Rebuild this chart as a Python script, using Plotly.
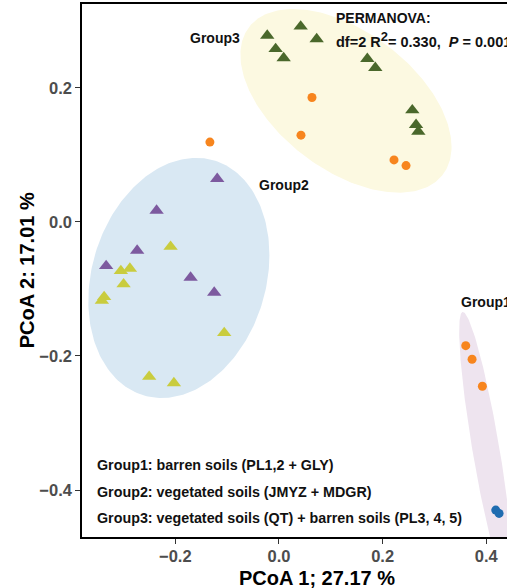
import numpy as np
import plotly.graph_objects as go

# PCoA site scores (axis 1, axis 2)
pl_x = [0.3604, 0.3726, 0.3925, 0.0637, 0.0425, -0.1332, 0.2220, 0.2452]
pl_y = [-0.1846, -0.2049, -0.2452, 0.1855, 0.1294, 0.1190, 0.0925, 0.0840]
gly_x = [0.4183, 0.4247]
gly_y = [-0.4299, -0.4348]
qt_x = [-0.0226, 0.0419, 0.0728, -0.0064, 0.0091, 0.1705, 0.1859, 0.2573, 0.2645, 0.2689]
qt_y = [0.2780, 0.2915, 0.2727, 0.2580, 0.2443, 0.2433, 0.2299, 0.1667, 0.1448, 0.1348]
jmyz_x = [-0.1191, -0.2361, -0.2736, -0.3334, -0.1705, -0.1249]
jmyz_y = [0.0642, 0.0169, -0.0428, -0.0657, -0.0831, -0.1055]
mdgr_x = [-0.2091, -0.3050, -0.2876, -0.2998, -0.3373, -0.3417, -0.1056, -0.2504, -0.2027]
mdgr_y = [-0.0369, -0.0731, -0.0697, -0.0930, -0.1119, -0.1175, -0.1657, -0.2309, -0.2403]

# Group ellipses: centre, half-width, half-height, correlation
ell_names = ["Group1", "Group2", "Group3"]
ell_cx = [0.3996, -0.1931, 0.1293]
ell_cy = [-0.3403, -0.0836, 0.1806]
ell_hx = [0.0519, 0.1747, 0.2037]
ell_hy = [0.2060, 0.1791, 0.1370]
ell_rho = [-0.861, 0.19, -0.50]
ell_fill = ["#EEE4EF", "#D9E8F3", "#FCF9E1"]

x_ticks = [-0.2, 0.0, 0.2, 0.4]
y_ticks = [-0.4, -0.2, 0.0, 0.2]

FONT = "Liberation Sans, Arial, sans-serif"

fig = go.Figure()

t = np.linspace(0, 2 * np.pi, 240)
for cx, cy, hx, hy, rho, col, nm in zip(ell_cx, ell_cy, ell_hx, ell_hy, ell_rho, ell_fill, ell_names):
    ex = cx + hx * np.cos(t)
    ey = cy + hy * (rho * np.cos(t) + np.sqrt(1 - rho ** 2) * np.sin(t))
    fig.add_trace(go.Scatter(x=ex, y=ey, mode="lines", fill="toself", fillcolor=col,
                             line=dict(width=0, color=col), hoverinfo="skip", name=nm))

fig.add_trace(go.Scatter(x=pl_x, y=pl_y, mode="markers", name="PL",
                         marker=dict(symbol="circle", size=9, color="#F7851E")))
fig.add_trace(go.Scatter(x=gly_x, y=gly_y, mode="markers", name="GLY",
                         marker=dict(symbol="circle", size=9, color="#1F6CB0")))
fig.add_trace(go.Scatter(x=qt_x, y=qt_y, mode="markers", name="QT",
                         marker=dict(symbol="triangle-up", size=12.5, color="#4A682B")))
fig.add_trace(go.Scatter(x=jmyz_x, y=jmyz_y, mode="markers", name="JMYZ",
                         marker=dict(symbol="triangle-up", size=12.5, color="#7D5A9F")))
fig.add_trace(go.Scatter(x=mdgr_x, y=mdgr_y, mode="markers", name="MDGR",
                         marker=dict(symbol="triangle-up", size=12.5, color="#C9CC3E")))

ann = []
def txt(x, y, s, size=14, xanchor="left", xref="x", yref="y", angle=0, color="#111111"):
    ann.append(dict(x=x, y=y, xref=xref, yref=yref, text=s, showarrow=False,
                    xanchor=xanchor, yanchor="middle", textangle=angle,
                    font=dict(family=FONT, size=size, color=color)))

txt(-0.1236, 0.2746, "<b>Group3</b>", xanchor="center")
txt(0.0097, 0.0552, "<b>Group2</b>", xanchor="center")
txt(0.3475, -0.1194, "<b>Group1</b>")
txt(0.106, 0.3045, "<b>PERMANOVA:</b>")
txt(0.106, 0.2716,
    "<b>df=2 R<sup><span style='font-size:13px'>2</span></sup>= 0.330,  <i>P</i> = 0.001</b>", size=14.5)
txt(-0.3552, -0.3627, "<b>Group1: barren soils (PL1,2 + GLY)</b>", size=14.3)
txt(-0.3552, -0.4025, "<b>Group2: vegetated soils (JMYZ + MDGR)</b>", size=14.3)
txt(-0.3552, -0.4413, "<b>Group3: vegetated soils (QT) + barren soils (PL3, 4, 5)</b>", size=14.3)
txt(0.553, -0.076, "<b>PCoA 1; 27.17 %</b>", size=20, xanchor="center", xref="paper", yref="paper", color="#000")
txt(-0.13, 0.5, "<b>PCoA 2: 17.01 %</b>", size=20, xanchor="center", xref="paper", yref="paper",
    angle=-90, color="#000")

axis_common = dict(showgrid=False, zeroline=False, showline=True, linecolor="#000", linewidth=1.5,
                   ticks="outside", ticklen=5, tickwidth=1.2, tickcolor="#333",
                   tickfont=dict(family=FONT, size=16.5, color="#4D4D4D", weight="bold"))

fig.update_layout(
    width=507, height=588,
    margin=dict(l=82, r=0, t=4, b=51),
    paper_bgcolor="white", plot_bgcolor="white",
    showlegend=False,
    annotations=ann,
    xaxis=dict(range=[-0.380, 0.440], tickvals=x_ticks, ticktext=["\u22120.2", "0.0", "0.2", "0.4"],
               mirror=True, ticklabelstandoff=-2, **axis_common),
    yaxis=dict(range=[-0.470, 0.325], tickvals=y_ticks, ticktext=["\u22120.4", "\u22120.2", "0.0", "0.2"],
               mirror=False, **axis_common),
)

fig.write_html("out.html")
